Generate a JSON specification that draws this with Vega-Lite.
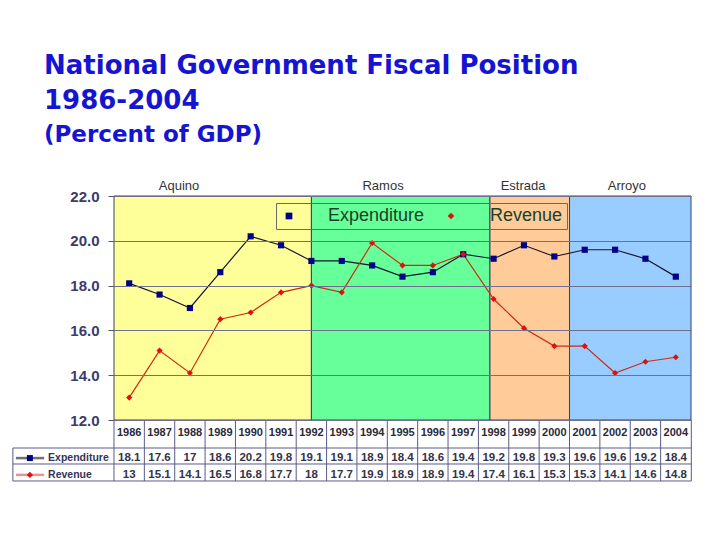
{
  "$schema": "https://vega.github.io/schema/vega-lite/v6.json",
  "width": 577,
  "height": 224,
  "autosize": {"type": "none"},
  "padding": {"left": 114, "top": 196, "right": 29, "bottom": 120},
  "background": "white",
  "config": {
    "view": {"stroke": null},
    "legend": {"orient": "none", "legendX": 162, "legendY": 7, "direction": "horizontal",
      "labelFont": "Liberation Sans", "labelFontSize": 18, "labelColor": "#1a4028", "symbolSize": 45,
      "labelOffset": 30, "columnPadding": 17, "padding": 4, "strokeColor": "#6a6a6a", "zindex": 5}
  },
  "title": {
    "text": ["National Government Fiscal Position", "1986-2004"],
    "subtitle": "(Percent of GDP)",
    "anchor": "start",
    "frame": "group",
    "dx": -70,
    "font": "DejaVu Sans",
    "fontSize": 26,
    "fontWeight": "bold",
    "color": "#1414d2",
    "lineHeight": 35,
    "subtitleFont": "DejaVu Sans",
    "subtitleFontSize": 23,
    "subtitleFontWeight": "bold",
    "subtitleColor": "#1414d2",
    "subtitlePadding": 10,
    "offset": 33
  },
  "datasets": {
    "fiscal": [
      {"year": 1986, "series": "Expenditure", "value": 18.1},
      {"year": 1987, "series": "Expenditure", "value": 17.6},
      {"year": 1988, "series": "Expenditure", "value": 17},
      {"year": 1989, "series": "Expenditure", "value": 18.6},
      {"year": 1990, "series": "Expenditure", "value": 20.2},
      {"year": 1991, "series": "Expenditure", "value": 19.8},
      {"year": 1992, "series": "Expenditure", "value": 19.1},
      {"year": 1993, "series": "Expenditure", "value": 19.1},
      {"year": 1994, "series": "Expenditure", "value": 18.9},
      {"year": 1995, "series": "Expenditure", "value": 18.4},
      {"year": 1996, "series": "Expenditure", "value": 18.6},
      {"year": 1997, "series": "Expenditure", "value": 19.4},
      {"year": 1998, "series": "Expenditure", "value": 19.2},
      {"year": 1999, "series": "Expenditure", "value": 19.8},
      {"year": 2000, "series": "Expenditure", "value": 19.3},
      {"year": 2001, "series": "Expenditure", "value": 19.6},
      {"year": 2002, "series": "Expenditure", "value": 19.6},
      {"year": 2003, "series": "Expenditure", "value": 19.2},
      {"year": 2004, "series": "Expenditure", "value": 18.4},
      {"year": 1986, "series": "Revenue", "value": 13},
      {"year": 1987, "series": "Revenue", "value": 15.1},
      {"year": 1988, "series": "Revenue", "value": 14.1},
      {"year": 1989, "series": "Revenue", "value": 16.5},
      {"year": 1990, "series": "Revenue", "value": 16.8},
      {"year": 1991, "series": "Revenue", "value": 17.7},
      {"year": 1992, "series": "Revenue", "value": 18},
      {"year": 1993, "series": "Revenue", "value": 17.7},
      {"year": 1994, "series": "Revenue", "value": 19.9},
      {"year": 1995, "series": "Revenue", "value": 18.9},
      {"year": 1996, "series": "Revenue", "value": 18.9},
      {"year": 1997, "series": "Revenue", "value": 19.4},
      {"year": 1998, "series": "Revenue", "value": 17.4},
      {"year": 1999, "series": "Revenue", "value": 16.1},
      {"year": 2000, "series": "Revenue", "value": 15.3},
      {"year": 2001, "series": "Revenue", "value": 15.3},
      {"year": 2002, "series": "Revenue", "value": 14.1},
      {"year": 2003, "series": "Revenue", "value": 14.6},
      {"year": 2004, "series": "Revenue", "value": 14.8}
    ],
    "eras": [
      {"era": "Aquino", "start": 1985.5, "end": 1992, "labelAt": 1987.64},
      {"era": "Ramos", "start": 1992, "end": 1997.88, "labelAt": 1994.36},
      {"era": "Estrada", "start": 1997.88, "end": 2000.5, "labelAt": 1998.97},
      {"era": "Arroyo", "start": 2000.5, "end": 2004.5, "labelAt": 2002.39}
    ]
  },
  "layer": [
    {
      "data": {"name": "eras"},
      "mark": {"type": "rect", "stroke": "#3c3c6c", "strokeWidth": 1},
      "encoding": {
        "x": {"field": "start", "type": "quantitative", "scale": {"domain": [1985.5, 2004.5], "nice": false, "zero": false}, "axis": null},
        "x2": {"field": "end"},
        "y": {"datum": 12, "type": "quantitative", "scale": {"domain": [12, 22], "nice": false, "zero": false},
          "axis": {"values": [12, 14, 16, 18, 20, 22], "format": ".1f", "labelFont": "Liberation Sans", "labelFontSize": 15, "labelFontWeight": "bold", "labelColor": "#3b3b6b", "tickSize": 6, "tickColor": "#555566", "labelPadding": 9, "domain": false, "grid": true, "gridColor": "#70708e", "gridWidth": 1, "title": null, "zindex": 1}},
        "y2": {"datum": 22},
        "fill": {"field": "era", "type": "nominal", "scale": {"domain": ["Aquino", "Ramos", "Estrada", "Arroyo"], "range": ["#ffff99", "#66ff99", "#ffcc99", "#99ccff"]}, "legend": null}
      }
    },
    {
      "data": {"name": "eras"},
      "mark": {"type": "text", "font": "Liberation Sans", "fontSize": 13, "color": "#333333", "baseline": "middle"},
      "encoding": {
        "x": {"field": "labelAt", "type": "quantitative"},
        "y": {"datum": 22.45},
        "text": {"field": "era"}
      }
    },
    {
      "data": {"name": "fiscal"},
      "mark": {"type": "line", "strokeWidth": 1.2},
      "encoding": {
        "x": {"field": "year", "type": "quantitative"},
        "y": {"field": "value", "type": "quantitative"},
        "stroke": {"field": "series", "type": "nominal", "scale": {"range": ["#151530", "#d02a10"]}, "legend": null}
      }
    },
    {
      "data": {"name": "fiscal"},
      "mark": {"type": "point", "filled": true, "size": 38, "opacity": 1},
      "encoding": {
        "x": {"field": "year", "type": "quantitative"},
        "y": {"field": "value", "type": "quantitative"},
        "color": {"field": "series", "type": "nominal", "title": null, "scale": {"domain": ["Expenditure", "Revenue"], "range": ["#000088", "#e01010"]},
          "legend": {
            "encode": {"symbols": {
              "stroke": {"value": {"expr": "datum.value === 'Expenditure' ? '#151530' : '#d02a10'"}},
              "fill": {"value": {"expr": "datum.value === 'Expenditure' ? '#000088' : '#e01010'"}},
              "strokeWidth": {"value": 1},
              "opacity": {"value": 1}
            }}}},
        "shape": {"field": "series", "type": "nominal", "title": null, "scale": {"domain": ["Expenditure", "Revenue"], "range": ["square", "diamond"]},
          "legend": {
            "encode": {"symbols": {
              "stroke": {"value": {"expr": "datum.value === 'Expenditure' ? '#151530' : '#d02a10'"}},
              "fill": {"value": {"expr": "datum.value === 'Expenditure' ? '#000088' : '#e01010'"}},
              "strokeWidth": {"value": 1},
              "opacity": {"value": 1}
            }}}}
      }
    },
    {
      "data": {"name": "fiscal"},
      "transform": [{"filter": "datum.series === 'Expenditure'"}],
      "mark": {"type": "text", "font": "Liberation Sans", "fontSize": 11, "fontWeight": "bold", "color": "#2a2a3a", "baseline": "middle"},
      "encoding": {
        "x": {"field": "year", "type": "quantitative"},
        "y": {"datum": 11.42},
        "text": {"field": "year", "type": "ordinal"}
      }
    },
    {
      "data": {"name": "fiscal"},
      "transform": [{"filter": "datum.series === 'Expenditure'"}],
      "mark": {"type": "text", "font": "Liberation Sans", "fontSize": 11.5, "fontWeight": "bold", "color": "#33334a", "baseline": "middle"},
      "encoding": {
        "x": {"field": "year", "type": "quantitative"},
        "y": {"datum": 10.3},
        "text": {"field": "value", "type": "nominal"}
      }
    },
    {
      "data": {"name": "fiscal"},
      "transform": [{"filter": "datum.series === 'Revenue'"}],
      "mark": {"type": "text", "font": "Liberation Sans", "fontSize": 11.5, "fontWeight": "bold", "color": "#33334a", "baseline": "middle"},
      "encoding": {
        "x": {"field": "year", "type": "quantitative"},
        "y": {"datum": 9.55},
        "text": {"field": "value", "type": "nominal"}
      }
    },
    {
      "data": {"name": "fiscal"},
      "transform": [{"filter": "datum.series === 'Expenditure'"}],
      "mark": {"type": "rule", "stroke": "#5a5a8a", "strokeWidth": 1, "xOffset": -15.2},
      "encoding": {
        "x": {"field": "year", "type": "quantitative"},
        "y": {"datum": 12},
        "y2": {"datum": 9.277}
      }
    },
    {
      "data": {"name": "fiscal"},
      "transform": [{"filter": "datum.series === 'Expenditure' && datum.year === 2004"}],
      "mark": {"type": "rule", "stroke": "#5a5a8a", "strokeWidth": 1, "xOffset": 15.5},
      "encoding": {
        "x": {"field": "year", "type": "quantitative"},
        "y": {"datum": 12},
        "y2": {"datum": 9.277}
      }
    },
    {
      "data": {"values": [{}]},
      "mark": {"type": "rule", "stroke": "#5a5a8a", "strokeWidth": 1},
      "encoding": {"x": {"datum": 1982.17}, "x2": {"datum": 2004.51}, "y": {"datum": 10.75}}
    },
    {
      "data": {"values": [{}]},
      "mark": {"type": "rule", "stroke": "#5a5a8a", "strokeWidth": 1},
      "encoding": {"x": {"datum": 1982.17}, "x2": {"datum": 2004.51}, "y": {"datum": 10.036}}
    },
    {
      "data": {"values": [{}]},
      "mark": {"type": "rule", "stroke": "#5a5a8a", "strokeWidth": 1},
      "encoding": {"x": {"datum": 1982.17}, "x2": {"datum": 2004.51}, "y": {"datum": 9.277}}
    },
    {
      "data": {"values": [{}]},
      "mark": {"type": "rule", "stroke": "#5a5a8a", "strokeWidth": 1},
      "encoding": {"x": {"datum": 1982.17}, "y": {"datum": 10.75}, "y2": {"datum": 9.277}}
    },
    {
      "data": {"name": "fiscal"},
      "transform": [{"filter": "datum.year === 1986 && datum.series === 'Expenditure'"}],
      "mark": {"type": "text", "font": "Liberation Sans", "fontSize": 10.5, "fontWeight": "bold", "color": "#34345a", "align": "left", "baseline": "middle"},
      "encoding": {"x": {"datum": 1983.33}, "y": {"datum": 10.3}, "text": {"field": "series"}}
    },
    {
      "data": {"name": "fiscal"},
      "transform": [{"filter": "datum.year === 1986 && datum.series === 'Revenue'"}],
      "mark": {"type": "text", "font": "Liberation Sans", "fontSize": 10.5, "fontWeight": "bold", "color": "#34345a", "align": "left", "baseline": "middle"},
      "encoding": {"x": {"datum": 1983.33}, "y": {"datum": 9.55}, "text": {"field": "series"}}
    },
    {
      "data": {"values": [{}]},
      "mark": {"type": "rule", "stroke": "#707078", "strokeWidth": 2.5},
      "encoding": {"x": {"datum": 1982.27}, "x2": {"datum": 1983.2}, "y": {"datum": 10.3}}
    },
    {
      "data": {"values": [{}]},
      "mark": {"type": "rule", "stroke": "#f09090", "strokeWidth": 2.5},
      "encoding": {"x": {"datum": 1982.27}, "x2": {"datum": 1983.2}, "y": {"datum": 9.55}}
    },
    {
      "data": {"values": [{}]},
      "mark": {"type": "point", "shape": "square", "filled": true, "size": 36, "color": "#000088", "opacity": 1},
      "encoding": {"x": {"datum": 1982.73}, "y": {"datum": 10.3}}
    },
    {
      "data": {"values": [{}]},
      "mark": {"type": "point", "shape": "diamond", "filled": true, "size": 40, "color": "#e01010", "opacity": 1},
      "encoding": {"x": {"datum": 1982.73}, "y": {"datum": 9.55}}
    }
  ]
}
